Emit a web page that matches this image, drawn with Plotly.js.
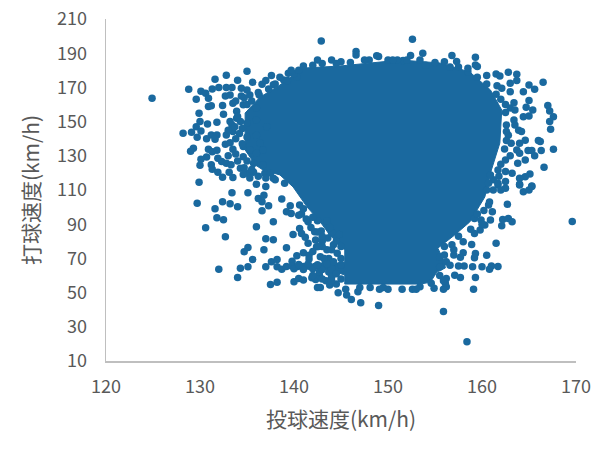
<!DOCTYPE html>
<html><head><meta charset="utf-8">
<script src="https://cdn.plot.ly/plotly-3.0.1.min.js"></script>
<style>html,body{margin:0;padding:0;background:#fff}</style></head>
<body><div id="chart" style="width:606px;height:455px"></div>
<script>
const xTickValues=[120,130,140,150,160,170];
const yTickValues=[10,30,50,70,90,110,130,150,170,190,210];
const xTitle='投球速度(km/h)';
const yTitle='打球速度(km/h)';
// dense core of the cloud, where single points can no longer be told apart
const coreX=[134.8,134.8,135.9,136.7,138.5,139.9,141.4,142.8,143.8,145.4,145.4,143.8,143.8,145.4,145.4,153.4,154.5,155.2,156.1,156,155.3,157.1,158.7,160.3,161,161.9,162.1,160.9,158.7,155.5,151.3,144.9,141,138.2,136.4,134.8];
const coreY=[155,133.4,124.6,121.7,118.8,111.8,100,91.3,83.7,74.9,67.9,66.7,63.2,60.3,55,55,56,62,64.4,68,76,83.7,91.3,105.9,121.7,137.5,156.8,168.5,179,184.3,186,182.5,181.3,170.2,164.4,155];
// individually readable points around the core
const leftX=[124.9,128.8,129.6,130.1,130.6,130.9,130.9,131.2,131.6,132.8,134,135,132,131.3,132.8,133.4,134.4,135.6,136.6,137.6,132.4,129.9,132.5,132.7,133.2,133.5,134.6,134.4,135.3,136.3,130,129.6,130.8,131.8,128.2,129.1,129.7,130.1,130.7,131.2,131.8,131.6,132.8,133.4,133.9,133.5,132.7,133.2,133.5,129.3,129,130.9,131.3,131.8,130.7,130.1,130,131.9,132.3,132.8,133.3,131.2,131.3,131.9,132.4,133.1,133.5,129.9,134.3,135.1,135.7,136,137,134.6,135.3,136,136.7,135,136,135,136,137.1,136.4,136.7,134.6,135.7,136.9,137.8,138.9,139.4,137.8];
const leftY=[163.6,168.9,163,167.7,166.6,163.6,158.8,159.2,174.8,177.1,174.2,179.4,170,169,170,170,169.5,173,171.8,176.9,159.4,154.9,154.3,165,165.6,160.7,159.8,165,165.6,165.6,150,147,148.6,149.6,143.2,143.8,140.9,144.5,139.9,142.2,142.2,139.7,142.2,148,152,144.2,136.8,137.7,133.8,134.4,132.7,133.8,132.3,133.2,129.3,128,124.5,128.6,126.6,125.6,124.7,124.7,122.1,120.4,117.5,120.4,117.3,114.5,122.7,119.8,120.4,113.4,112,135.4,133.4,131.5,124.7,149,151,141,142,147,137.3,133.4,129.5,125.6,119.8,116.9,174.4,178.3,171.5];
const leftEdgeX=[133.9,134.3,133.7,133,134.2,134.5,133.8,134.5,133.2,134,135,135.5,136,135,134,133.8,133,134.7,135.5,136.2,137,138,139,137.5,135.3,134.6,136.2,137.3,138,139.3,140.3,135,134.7,133.8,137,140,138.5];
const leftEdgeY=[156,150,147,145,143,146,140,137,150,153,160,162,158,127,127,131,130,123,122,118,117,116,114,120,117,119,167,169,172,174,176,168.5,164,162,174,178,176];
const lowLeftX=[129.7,131.6,132.4,133.2,134,133.4,135.1,131.8,132.5,130.6,132.7,136.2,136.8,136.6,137.3,136.6,136,137.8,137,137.8,135.1,134.7,136.8,139.2,135.6,135.1,134.3,132,134,137.6,138.2,137,138.2,138.7,139.8,140.3,141,141.6,141.6,137.5,138.2,140,140.5,141,141.9,142.3,142.5,138.7,139.6,139.2,139.7,140.5,140.6,141.5,139.9,140.6,140.8,141.2,141.5,142.2,142.3,142.4,139.2,139.8,140.4,141,141.6,142.2,142.8,143.4,144,143,143.5,142.8,143.3,142.7,143.4,144,143.7,143,144,143.8,142.9,142.5,143.5,142.7,143.7,144.2,143.6,144.5,145,144.6,145,144.2,143.2,142,142.6,143,141.8,142.5,141.3,142,140.8,141,144,144.8,140,141,142,143,144,140.5,141.5,142.5,143.5,142,143,144,144.5,145];
const lowLeftY=[102.2,99,103.1,102,100.2,108.4,108.4,93.8,92.6,87.9,82.7,105.1,107,103.1,100.8,97.9,88.5,91.4,81.5,80.9,76.4,73.9,75.1,76.2,69.4,65.1,64.2,63.6,58.9,68,69.4,65.1,65.1,63.6,68.4,71.6,73.3,71.9,69.6,54.8,56,56.3,58.3,57.3,58.7,57.7,53,104.7,100.8,97.3,96.3,95.3,101.2,91.4,84,87.5,84.6,82.3,78.8,85.6,80.7,76.8,65.3,65.4,65.2,65.3,65.4,65.2,65.3,65.4,65.3,80,75,71,67,60,57,60,62,77,85,88,86,92,92,62,70,78,82,80,77,73,70,68,70,74,77,83,88,85.5,93,94,96,99,75,84,64,63.5,64,63.5,64,66.5,66.7,66.3,66.7,60,58,59,61,58];
const lowRightX=[169.6,162.7,161.5,162.1,162.2,162.8,163.2,160.9,161.1,160.7,160.3,159.8,159.2,159.9,159.2,158.9,158,158,157,157.7,159.3,159.2,160.5,159,160,161,161.7,160.8,158.1,157.5,157.1,157.7,159.3,159.1,156.2,155.9,155.9,158.4,149,147.1,146.1,145.6,144.7,146.8,142.8,143.8,151.5,152.6,153.4,154.6,148.1,149.1,150,155.5,156.2,156.2,156.1,164,164.4,165,165.3,162.5,161.7,161.2];
const lowRightY=[91.6,101.6,78.8,89.1,92.8,93.4,91.4,92.4,97.3,101.2,89.5,86.6,84.6,92.4,93.4,78.2,79.7,73.3,72,70.6,72.9,70.4,71.8,65.1,65.1,65.5,65.3,63.6,65.5,65.5,60.2,58.9,58.9,51.9,53.4,51.9,39,21.3,42.5,44.1,46,48.6,49.9,50.5,53,54.4,51.9,51.9,53.4,55.4,53,51.9,51.9,70.6,68,58.3,55.4,112.9,109,110,112.3,111,112.9,110];
const rightEdgeX=[162.5,162,161.5,160.5,159.5,158.5,163,163.4,162.8,162.6,163,162.4,162,161.8,161.2,162,160.5,160.8,160.2,159.5,160,158.8,157.5,156.8,156,157,156,155.5,156.6,155.5,155.9,154.9,153,149.5,147,145.5,144.5,144,145];
const rightEdgeY=[160,163,166,172,176,179,158,161,142,139,130,134,125,118,116,110,110,103,98,96,90,87,83,78,77,75,72,65,66,60,57,52.5,52,53,53,52,55,57,66];
const upperRightX=[152.6,152.4,153.7,153.4,151.6,156.8,157.3,157.5,156.6,159.3,159.3,159.5,158.5,160.5,161.5,161.9,162.8,163.7,163.7,166.5,165,165.6,163,164.4,161.6,162.1,163,165,164.7,165.4,164.4,165,167,167.2,167.6,167.2,167.3,163.5,162.5,163.4,162.6,163.5,163.9,164.2,162.6,166,166.2,164.6,164,163.1,167.6,166.3,165.6,164.9,165.3,163.7,164,164.6,163.8,162.5,163.2,166.6,165.1,164.6,164,164,165.3,162.5,161.7,160.9,162.5,161.7,160.7];
const upperRightY=[198.1,188.6,190,186,185.7,188.6,185.1,182,182,187.6,183.1,182.2,181.2,176.9,177.9,176.7,178.9,177.7,174,173,171.4,168.9,172.4,167.5,170.9,169.5,167.5,162.3,158.4,156.8,152.9,153.3,159.4,156.2,152.9,150,145.5,156.8,155.3,151,148,148,145,144.2,144.2,138.9,138.3,139.1,137.3,137.3,133.8,133.1,130.1,133.1,133.1,133.4,131.5,127.6,125.6,127.6,119.8,123.3,119.4,117.8,116.9,113.4,112,114.9,114,118.8,120.8,121.7,114];
const topX=[142.9,146.6,146.6,144,145,149,150,151,148,140.5,142,143,142.5,139.7,141,144.5,146,147.5,148.8,150.5,152,155,156,154];
const topY=[197.1,191,189,186,185,188,186,186,186,180,183,184,186,180,182.5,184,184.5,186,188.5,186,186,184.5,185,183];

const blue='#1a699f', grey='#595959', fontName='"Noto Sans CJK JP","Noto Sans",sans-serif';
const dots=(x,y)=>({type:'scatter',mode:'markers',x,y,hoverinfo:'skip',showlegend:false,
  marker:{color:blue,size:7.5,line:{width:0}}});
const traces=[
 {type:'scatter',mode:'lines',x:coreX,y:coreY,fill:'toself',fillcolor:blue,line:{color:blue,width:1},hoverinfo:'skip',showlegend:false},
 dots(leftX,leftY),dots(leftEdgeX,leftEdgeY),dots(lowLeftX,lowLeftY),dots(lowRightX,lowRightY),dots(rightEdgeX,rightEdgeY),dots(upperRightX,upperRightY),dots(topX,topY)
];
const axisCommon={showgrid:false,zeroline:false,showline:true,linecolor:'#bfbfbf',linewidth:1.5,ticks:'',
  tickfont:{family:fontName,size:18,color:grey},tickmode:'array'};
Plotly.newPlot('chart',traces,{
  width:606,height:455,paper_bgcolor:'#fff',plot_bgcolor:'#fff',
  margin:{l:106,r:30,t:19,b:94,pad:0},
  xaxis:{...axisCommon,range:[120,170],tickvals:xTickValues,ticktext:xTickValues.map(String),ticklabelstandoff:9,
    title:{text:xTitle,font:{family:fontName,size:21,color:grey},standoff:15}},
  yaxis:{...axisCommon,range:[10,210],tickvals:yTickValues,ticktext:yTickValues.map(String),ticklabelstandoff:14,
    title:{text:yTitle,font:{family:fontName,size:21,color:grey},standoff:11}}
},{displayModeBar:false,staticPlot:true});
</script></body></html>
